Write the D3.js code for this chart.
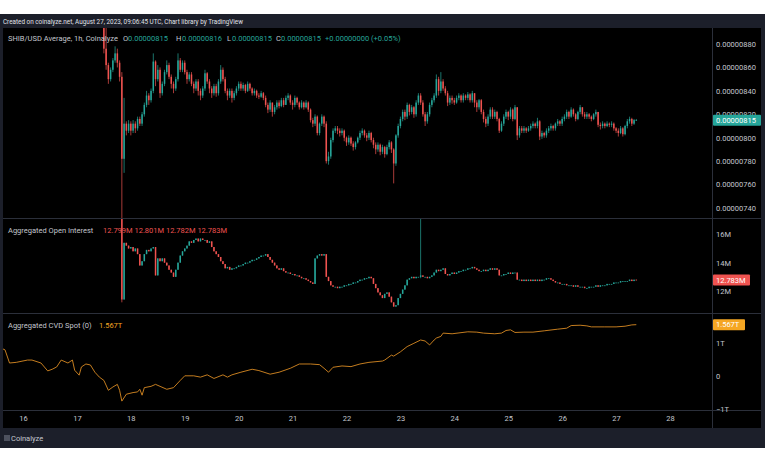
<!DOCTYPE html>
<html>
<head>
<meta charset="utf-8">
<script src="https://cdn.jsdelivr.net/npm/d3@7"></script>
<style>
body { margin: 0; background: #fff; }
svg text { font-family: Roboto, "Open Sans", sans-serif; }
</style>
</head>
<body>
<div id="chart"></div>
<script>
"use strict";

// SHIB/USD hourly candles, units of 1e-8 USD, first candle Aug 17 12:00 UTC
const priceStart = Date.UTC(2023, 7, 17, 12);
const priceOpen0 = 905;
const priceClose = [
	876, 862, 850, 858, 866, 872, 864, 852, 782, 812, 806, 812,
	806, 812, 808, 816, 812, 820, 828, 836, 832, 840, 865, 850, 858, 838, 846, 856, 862, 852, 846, 842, 850, 866, 858, 864,
	856, 850, 854, 846, 842, 848, 840, 836, 842, 855, 848, 842, 838, 844, 838, 848, 858, 850, 840, 836, 840, 834, 838, 842,
	846, 842, 845, 840, 846, 842, 838, 840, 836, 835, 838, 834, 828, 824, 830, 822, 826, 830, 827, 832, 828, 834, 836, 830,
	828, 834, 830, 826, 830, 826, 830, 824, 815, 812, 818, 804, 812, 818, 812, 780, 784, 798, 806, 808, 806, 804, 806, 800,
	796, 800, 795, 792, 796, 800, 804, 806, 802, 800, 804, 798, 794, 790, 794, 788, 792, 786, 792, 796, 790, 778, 802, 810,
	816, 822, 818, 828, 822, 826, 820, 830, 836, 830, 820, 814, 820, 828, 832, 836, 850, 840, 848, 842, 838, 830, 834, 832,
	830, 834, 836, 832, 836, 834, 837, 832, 838, 830, 826, 832, 822, 816, 812, 818, 824, 818, 822, 816, 806, 812, 818, 822,
	818, 824, 816, 826, 802, 808, 806, 808, 806, 808, 810, 812, 810, 814, 801, 804, 802, 806, 808, 810, 808, 812, 814, 812,
	816, 818, 822, 818, 824, 820, 816, 822, 826, 820, 818, 820, 818, 816, 820, 822, 811, 810, 812, 810, 812, 811, 812, 808,
	806, 804, 808, 803, 810, 814, 816, 812, 815, 815
];
const priceHigh = [
	915, 895, 864, 860, 868, 878, 876, 866, 856, 834, 814, 815,
	814, 815, 814, 818, 818, 822, 830, 840, 838, 842, 872, 866, 862, 860, 848, 858, 866, 864, 854, 848, 852, 872, 868, 866,
	866, 858, 856, 856, 848, 850, 850, 842, 844, 858, 856, 850, 844, 846, 846, 850, 862, 860, 852, 842, 842, 842, 840, 844,
	848, 848, 847, 846, 848, 847, 843, 842, 841, 838, 840, 839, 836, 830, 832, 830, 828, 832, 832, 834, 834, 836, 838, 837,
	832, 836, 835, 831, 832, 831, 832, 831, 825, 817, 820, 819, 813, 820, 819, 814, 788, 800, 808, 810, 810, 808, 808, 807,
	801, 802, 801, 797, 797, 801, 806, 808, 807, 804, 806, 805, 800, 796, 796, 795, 794, 793, 794, 798, 797, 791, 803, 812,
	818, 824, 824, 830, 829, 828, 827, 832, 838, 838, 832, 822, 822, 830, 834, 838, 854, 852, 856, 850, 844, 840, 836, 836,
	834, 836, 838, 837, 838, 837, 839, 838, 840, 838, 832, 833, 833, 824, 818, 820, 826, 826, 824, 823, 817, 814, 820, 824,
	823, 826, 825, 828, 826, 810, 810, 810, 809, 810, 812, 814, 813, 817, 815, 806, 805, 808, 810, 812, 811, 813, 816, 815,
	818, 820, 824, 823, 826, 825, 821, 823, 828, 826, 822, 822, 821, 819, 821, 824, 822, 813, 814, 813, 814, 813, 814, 813,
	809, 808, 810, 809, 811, 816, 818, 817, 816, 816
];
const priceLow = [
	872, 858, 846, 848, 856, 864, 860, 848, 731, 770, 802, 804,
	802, 804, 804, 806, 810, 810, 818, 826, 828, 830, 838, 844, 848, 834, 836, 844, 854, 850, 842, 838, 840, 848, 856, 856,
	854, 846, 848, 844, 838, 840, 836, 832, 834, 840, 846, 838, 834, 836, 835, 836, 846, 848, 838, 832, 834, 830, 832, 836,
	840, 840, 840, 838, 839, 840, 836, 836, 834, 833, 834, 832, 826, 821, 822, 818, 820, 824, 825, 826, 826, 828, 832, 828,
	824, 826, 828, 824, 825, 824, 825, 822, 813, 809, 810, 802, 802, 810, 809, 778, 777, 782, 796, 804, 803, 801, 802, 797,
	793, 794, 793, 789, 790, 795, 798, 802, 800, 797, 798, 796, 791, 786, 788, 785, 786, 783, 785, 790, 787, 761, 776, 800,
	808, 814, 815, 816, 819, 820, 817, 818, 828, 828, 818, 810, 812, 818, 826, 830, 834, 836, 838, 840, 836, 827, 828, 829,
	828, 829, 832, 830, 830, 832, 832, 830, 830, 826, 822, 824, 820, 813, 809, 810, 816, 816, 816, 814, 804, 805, 810, 816,
	815, 816, 814, 815, 798, 800, 804, 804, 804, 805, 806, 808, 808, 808, 798, 799, 800, 800, 804, 806, 806, 806, 810, 810,
	810, 814, 816, 816, 817, 818, 814, 815, 820, 818, 816, 816, 816, 814, 815, 818, 809, 807, 808, 808, 809, 809, 809, 806,
	804, 801, 803, 801, 802, 808, 812, 810, 811, 815
];

// aggregated open interest, millions, first candle Aug 17 20:00 UTC
const oiStart = Date.UTC(2023, 7, 17, 20);
const oiOpen0 = 17.6;
const oiClose = [
	11.4, 15.4, 15.2, 15.0,
	15.1, 14.8, 15.0, 14.6, 13.8, 14.1, 14.6, 14.9, 14.8, 15.0, 15.1, 13.1, 14.3, 14.1, 14.3, 14.0, 13.8, 13.5, 13.3, 13.0, 13.5, 14.0, 14.5, 14.8,
	15.0, 15.2, 15.5, 15.4, 15.6, 15.7, 15.5, 15.7, 15.6, 15.6, 15.4, 15.5, 15.1, 14.8, 14.6, 14.4, 14.1, 13.9, 13.6, 13.7, 13.5, 13.6, 13.6, 13.7,
	13.8, 13.8, 13.9, 14.0, 14.0, 14.1, 14.2, 14.2, 14.3, 14.4, 14.5, 14.5, 14.6, 14.4, 14.2, 14.0, 13.8, 13.6, 13.5, 13.6, 13.4, 13.3, 13.3, 13.2,
	13.2, 13.1, 13.1, 13.0, 12.9, 12.9, 12.8, 12.7, 12.6, 12.5, 14.3, 14.5, 14.6, 14.5, 14.6, 13.0, 12.7, 12.4, 12.3, 12.3, 12.2, 12.3, 12.3, 12.4,
	12.4, 12.5, 12.5, 12.6, 12.6, 12.7, 12.8, 12.8, 12.9, 12.9, 13.0, 12.9, 12.5, 12.2, 11.9, 11.7, 11.5, 11.8, 11.9, 11.6, 11.2, 10.9, 11.0, 11.5,
	11.8, 12.1, 12.4, 12.8, 12.9, 13.0, 12.9, 13.0, 13.0, 13.1, 13.0, 13.0, 12.9, 13.0, 13.1, 13.3, 13.5, 13.4, 13.5, 13.6, 13.2, 13.1, 13.2, 13.3,
	13.2, 13.3, 13.4, 13.4, 13.5, 13.5, 13.6, 13.6, 13.7, 13.6, 13.5, 13.4, 13.4, 13.5, 13.4, 13.5, 13.6, 13.5, 13.6, 13.5, 13.1, 13.1, 13.2, 13.2,
	13.3, 13.2, 13.3, 13.3, 12.8, 12.8, 12.7, 12.8, 12.7, 12.8, 12.7, 12.8, 12.7, 12.8, 12.7, 12.8, 12.8, 12.9, 12.9, 12.8, 12.7, 12.6, 12.6, 12.5,
	12.5, 12.5, 12.4, 12.4, 12.4, 12.3, 12.4, 12.3, 12.3, 12.3, 12.2, 12.2, 12.3, 12.3, 12.3, 12.4, 12.3, 12.4, 12.4, 12.4, 12.5, 12.5, 12.5, 12.6,
	12.6, 12.6, 12.7, 12.7, 12.7, 12.7, 12.8, 12.7, 12.799, 12.783
];
// the few OI candles that have visible wicks: [index, high, low]
const oiWicks = [[0, 17.8, 11.2], [133, 18.5, 12.9], [229, 12.801, 12.782]];

// aggregated CVD spot, trillions: [hours from Aug 16 00:00 UTC, value]
const cvdSeries = [
	[-9, 0.83], [-8, 0.80], [-6, 0.40], [-3, 0.42], [2, 0.49], [4, 0.49], [8, 0.40], [11, 0.16], [13, 0.21],
	[15, 0.28], [17, 0.49], [20, 0.40], [22, 0.49], [23, 0.18], [25, 0.03], [26, 0.28], [28, 0.37], [30, 0.34],
	[32, 0.12], [34, -0.03], [36, -0.13], [38, -0.43], [40, -0.33], [42, -0.25], [43, -0.43], [44, -0.76],
	[46, -0.55], [49, -0.50], [51, -0.48], [52, -0.40], [53, -0.58], [54, -0.35], [57, -0.31], [59, -0.25],
	[61, -0.31], [64, -0.40], [67, -0.35], [70, -0.13], [72, 0.01], [76, 0.01], [79, -0.03], [82, 0.04],
	[85, -0.07], [89, 0.04], [91, -0.03], [93, 0.04], [97, 0.12], [102, 0.21], [105, 0.17], [110, 0.06],
	[114, 0.12], [119, 0.24], [123, 0.37], [128, 0.37], [132, 0.35], [134, 0.24], [136, 0.12], [138, 0.27],
	[142, 0.31], [146, 0.29], [150, 0.37], [154, 0.42], [160, 0.46], [161, 0.49], [164, 0.64], [165, 0.61],
	[168, 0.74], [171, 0.90], [174, 1.00], [177, 1.10], [179, 1.07], [181, 0.95], [183, 1.10], [184, 1.16],
	[186, 1.21], [187, 1.31], [191, 1.29], [198, 1.35], [202, 1.34], [205, 1.31], [210, 1.29], [213, 1.31],
	[215, 1.39], [217, 1.41], [219, 1.33], [223, 1.34], [227, 1.34], [232, 1.38], [238, 1.43], [242, 1.46],
	[244, 1.54], [248, 1.55], [251, 1.53], [253, 1.50], [259, 1.50], [264, 1.50], [268, 1.52], [271, 1.56], [273, 1.567]
];

const priceTicks = [740, 760, 780, 800, 820, 840, 860, 880];
const oiTicks = [12, 14, 16];
const cvdTicks = [-1, 0, 1];
const dayTicks = [16, 17, 18, 19, 20, 21, 22, 23, 24, 25, 26, 27, 28];

const HOUR = 3600000;
const upColor = "#26a69a";
const downColor = "#ef5350";
const cvdColor = "#d98a22";
const cvdLabelColor = "#f5a623";
const labelColor = "#c3c6ce";

const plotLeft = 3, plotRight = 712, axisRight = 761;
const pricePane = [28, 218], oiPane = [219, 313], cvdPane = [314, 410];

let svg = d3.select("#chart").append("svg")
	.attr("width", 768)
	.attr("height", 463);

//outer frame, header strip and bottom strip
svg.append("rect").attr("x", 0).attr("y", 14).attr("width", 765).attr("height", 434).style("fill", "#1c1f2a");
svg.append("rect").attr("x", plotLeft).attr("y", 28).attr("width", axisRight - plotLeft).attr("height", 400).style("fill", "#000");

svg.append("text")
	.attr("x", 3).attr("y", 23.5)
	.attr("textLength", 240).attr("lengthAdjust", "spacingAndGlyphs")
	.style("font-size", "6.5px").style("fill", "#e0e2e8")
	.text("Created on coinalyze.net, August 27, 2023, 09:06:45 UTC, Chart library by TradingView");

let x = d3.scaleUtc()
	.domain([Date.UTC(2023, 7, 16), Date.UTC(2023, 7, 28)])
	.range([23, 670]);

let yPrice = d3.scaleLinear().domain([740, 880]).range([208, 44]);
let yOi = d3.scaleLinear().domain([12, 16]).range([291, 234.3]);
let yCvd = d3.scaleLinear().domain([-1, 1]).range([409, 343.3]);

function addClip(id, pane) {
	svg.append("clipPath").attr("id", id)
		.append("rect")
		.attr("x", plotLeft).attr("y", pane[0])
		.attr("width", plotRight - plotLeft).attr("height", pane[1] - pane[0]);
}
addClip("clipPrice", pricePane);
addClip("clipOi", oiPane);
addClip("clipCvd", cvdPane);

function drawCandles(clipId, y, candles) {
	let g = svg.append("g").attr("clip-path", "url(#" + clipId + ")");
	candles.forEach(function (d) {
		let cx = x(d.t);
		let color = d.c >= d.o ? upColor : downColor;
		let top = y(Math.max(d.o, d.c));
		let bottom = y(Math.min(d.o, d.c));
		g.append("line")
			.attr("x1", cx).attr("x2", cx)
			.attr("y1", y(Math.max(d.h, d.o, d.c)))
			.attr("y2", y(Math.min(d.l, d.o, d.c)))
			.style("stroke", color)
			.style("stroke-width", "0.7px");
		g.append("rect")
			.attr("x", cx - 0.75)
			.attr("y", top)
			.attr("width", 1.5)
			.attr("height", Math.max(bottom - top, 0.8))
			.style("fill", color);
	});
}

let priceCandles = priceClose.map(function (c, i) {
	return {
		t: new Date(priceStart + i * HOUR),
		o: i == 0 ? priceOpen0 : priceClose[i - 1],
		h: priceHigh[i], l: priceLow[i], c: c
	};
});

let oiCandles = oiClose.map(function (c, i) {
	let o = i == 0 ? oiOpen0 : oiClose[i - 1];
	let wick = oiWicks.find(function (w) { return w[0] == i; });
	return {
		t: new Date(oiStart + i * HOUR),
		o: o,
		h: wick ? wick[1] : Math.max(o, c),
		l: wick ? wick[2] : Math.min(o, c),
		c: c
	};
});

drawCandles("clipPrice", yPrice, priceCandles);
drawCandles("clipOi", yOi, oiCandles);

let cvdLine = d3.line()
	.x(function (d) { return x(new Date(Date.UTC(2023, 7, 16) + d[0] * HOUR)); })
	.y(function (d) { return yCvd(d[1]); });

svg.append("g").attr("clip-path", "url(#clipCvd)")
	.append("path")
	.datum(cvdSeries)
	.attr("d", cvdLine)
	.style("fill", "none")
	.style("stroke", cvdColor)
	.style("stroke-width", "0.9px");

//pane separators and price scale border
[pricePane[1], oiPane[1], cvdPane[1]].forEach(function (yy) {
	svg.append("line")
		.attr("x1", plotLeft).attr("x2", axisRight)
		.attr("y1", yy + 0.5).attr("y2", yy + 0.5)
		.style("stroke", "#2b2f3a").style("stroke-width", "1px");
});
svg.append("line")
	.attr("x1", plotRight + 0.5).attr("x2", plotRight + 0.5)
	.attr("y1", 28).attr("y2", 428)
	.style("stroke", "#2b2f3a").style("stroke-width", "1px");

function styleAxis(g) {
	g.select(".domain").remove();
	g.selectAll("text")
		.style("font-size", "7.5px")
		.style("font-family", "Roboto, sans-serif")
		.style("fill", labelColor);
}

svg.append("g")
	.attr("transform", "translate(" + plotRight + ",0)")
	.call(d3.axisRight(yPrice).tickValues(priceTicks).tickSize(0).tickPadding(4)
		.tickFormat(function (v) { return (v / 1e8).toFixed(8); }))
	.call(styleAxis);

svg.append("g")
	.attr("transform", "translate(" + plotRight + ",0)")
	.call(d3.axisRight(yOi).tickValues(oiTicks).tickSize(0).tickPadding(4)
		.tickFormat(function (v) { return v + "M"; }))
	.call(styleAxis);

svg.append("g")
	.attr("transform", "translate(" + plotRight + ",0)")
	.call(d3.axisRight(yCvd).tickValues(cvdTicks).tickSize(0).tickPadding(4)
		.tickFormat(function (v) { return v == 0 ? "0" : (v < 0 ? "\u2212" : "") + Math.abs(v) + "T"; }))
	.call(styleAxis);

svg.append("g")
	.attr("transform", "translate(0," + cvdPane[1] + ")")
	.call(d3.axisBottom(x)
		.tickValues(dayTicks.map(function (d) { return new Date(Date.UTC(2023, 7, d)); }))
		.tickSize(0).tickPadding(6)
		.tickFormat(d3.utcFormat("%-d")))
	.call(styleAxis);

//last value labels on the scales
function lastLabel(yy, text, fill, width) {
	svg.append("rect")
		.attr("x", plotRight + 1).attr("y", yy - 5.5)
		.attr("width", width).attr("height", 11)
		.attr("rx", 1)
		.style("fill", fill);
	svg.append("text")
		.attr("x", plotRight + 4).attr("y", yy)
		.attr("dy", "0.35em")
		.style("font-size", "7.5px")
		.style("fill", "#fff")
		.text(text);
}
let lastPrice = priceClose[priceClose.length - 1];
let lastOi = oiClose[oiClose.length - 1];
let lastCvd = cvdSeries[cvdSeries.length - 1][1];
lastLabel(yPrice(lastPrice), (lastPrice / 1e8).toFixed(8), upColor, 48);
lastLabel(yOi(lastOi), lastOi.toFixed(3) + "M", downColor, 37);
lastLabel(yCvd(lastCvd), lastCvd.toFixed(3) + "T", cvdLabelColor, 32);

//legends
function legendText(xx, yy, text, color) {
	svg.append("text")
		.attr("x", xx).attr("y", yy)
		.style("font-size", "7.5px")
		.style("fill", color)
		.text(text);
}
let fmtP = function (v) { return (v / 1e8).toFixed(8); };
let lastCandle = priceCandles[priceCandles.length - 1];
legendText(8, 40.5, "SHIB/USD Average, 1h, Coinalyze", labelColor);
legendText(123, 40.5, "O", labelColor);
legendText(128, 40.5, fmtP(lastCandle.o), upColor);
legendText(176, 40.5, "H", labelColor);
legendText(182, 40.5, fmtP(lastCandle.h), upColor);
legendText(227, 40.5, "L", labelColor);
legendText(232, 40.5, fmtP(lastCandle.l), upColor);
legendText(276, 40.5, "C", labelColor);
legendText(281, 40.5, fmtP(lastCandle.c), upColor);
legendText(325, 40.5, "+0.00000000 (+0.05%)", upColor);

let lastOiCandle = oiCandles[oiCandles.length - 1];
legendText(8, 232.5, "Aggregated Open Interest", labelColor);
legendText(103, 232.5,
	[lastOiCandle.o, lastOiCandle.h, lastOiCandle.l, lastOiCandle.c]
		.map(function (v) { return v.toFixed(3) + "M"; }).join("  "),
	downColor);

legendText(8, 327.5, "Aggregated CVD Spot (0)", labelColor);
legendText(99, 327.5, lastCvd.toFixed(3) + "T", cvdLabelColor);

//coinalyze mark in the bottom strip
[0, 2, 4].forEach(function (dy) {
	svg.append("line")
		.attr("x1", 4).attr("x2", 10)
		.attr("y1", 436 + dy).attr("y2", 436 + dy)
		.style("stroke", "#9aa0ac").style("stroke-width", "0.8px");
});
legendText(11, 441, "Coinalyze", "#c3c6ce");
</script>
</body>
</html>
